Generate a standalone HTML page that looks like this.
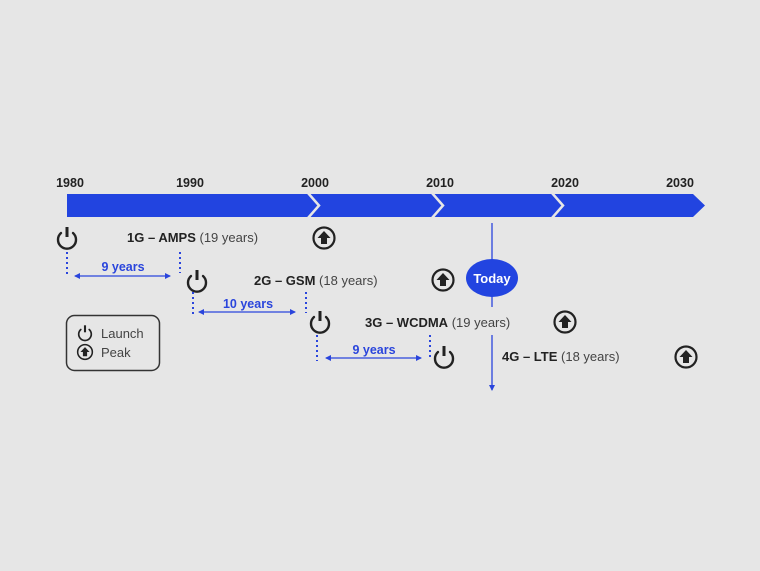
<!DOCTYPE html>
<html><head><meta charset="utf-8"><style>
html,body{margin:0;padding:0;background:#e6e6e6;}
svg{display:block;font-family:"Liberation Sans",sans-serif;}
.yr{font-size:12.5px;font-weight:bold;fill:#222;}
.lb{font-size:13px;fill:#222;}
.b{font-weight:bold;}
.g{fill:#444;}
.bl{font-size:12.5px;font-weight:bold;fill:#2a45dc;}
</style></head><body>
<svg width="760" height="571" viewBox="0 0 760 571">
<defs>
<marker id="a" markerWidth="6" markerHeight="6" refX="5" refY="3" orient="auto-start-reverse" markerUnits="userSpaceOnUse"><path d="M0,0 L6,3 L0,6z" fill="#2a45dc"/></marker>
<g id="pw"><path d="M-6,-5 A9,9 0 1 0 6,-5" fill="none" stroke="#222" stroke-width="2.4" stroke-linecap="round"/><line x1="0" y1="-11" x2="0" y2="-1" stroke="#222" stroke-width="3"/></g>
<g id="pk"><circle r="10.5" fill="none" stroke="#222" stroke-width="2.2"/><path d="M0,-7 L6.5,0 L3,0 L3,6 L-3,6 L-3,0 L-6.5,0z" fill="#222"/></g>
</defs>
<text class="yr" x="70" y="187" text-anchor="middle">1980</text>
<text class="yr" x="190" y="187" text-anchor="middle">1990</text>
<text class="yr" x="315" y="187" text-anchor="middle">2000</text>
<text class="yr" x="440" y="187" text-anchor="middle">2010</text>
<text class="yr" x="565" y="187" text-anchor="middle">2020</text>
<text class="yr" x="680" y="187" text-anchor="middle">2030</text>
<path d="M67,194 L693,194 L705,205.5 L693,217 L67,217z" fill="#2244e0"/>
<g fill="none" stroke="#e6e6e6" stroke-width="2.5">
<path d="M308,193 L319,205.5 L308,218"/><path d="M432,193 L443,205.5 L432,218"/><path d="M552,193 L563,205.5 L552,218"/>
</g>
<use href="#pw" x="67" y="238"/><use href="#pw" x="197" y="281"/><use href="#pw" x="320" y="322"/><use href="#pw" x="444" y="357"/>
<use href="#pk" x="324" y="238"/><use href="#pk" x="443" y="280"/><use href="#pk" x="565" y="322"/><use href="#pk" x="686" y="357"/>
<text class="lb" x="127" y="242"><tspan class="b">1G – AMPS</tspan> <tspan class="g">(19 years)</tspan></text>
<text class="lb" x="254" y="285"><tspan class="b">2G – GSM</tspan> <tspan class="g">(18 years)</tspan></text>
<text class="lb" x="365" y="327"><tspan class="b">3G – WCDMA</tspan> <tspan class="g">(19 years)</tspan></text>
<text class="lb" x="502" y="361"><tspan class="b">4G – LTE</tspan> <tspan class="g">(18 years)</tspan></text>
<g stroke="#2a45dc" stroke-width="2" stroke-dasharray="2,3">
<line x1="67" y1="252" x2="67" y2="274"/><line x1="180" y1="252" x2="180" y2="273"/>
<line x1="193" y1="292" x2="193" y2="314"/><line x1="306" y1="292" x2="306" y2="313"/>
<line x1="317" y1="335" x2="317" y2="361"/><line x1="430" y1="335" x2="430" y2="360"/>
</g>
<g stroke="#2a45dc" stroke-width="1.3">
<line x1="75" y1="276" x2="170" y2="276" marker-start="url(#a)" marker-end="url(#a)"/>
<line x1="199" y1="312" x2="295" y2="312" marker-start="url(#a)" marker-end="url(#a)"/>
<line x1="326" y1="358" x2="421" y2="358" marker-start="url(#a)" marker-end="url(#a)"/>
<line x1="492" y1="223" x2="492" y2="260"/><line x1="492" y1="296" x2="492" y2="307"/>
<line x1="492" y1="335" x2="492" y2="390" marker-end="url(#a)"/>
</g>
<text class="bl" x="123" y="271" text-anchor="middle">9 years</text>
<text class="bl" x="248" y="308" text-anchor="middle">10 years</text>
<text class="bl" x="374" y="354" text-anchor="middle">9 years</text>
<ellipse cx="492" cy="278" rx="26" ry="19" fill="#2244e0"/>
<text x="492" y="283" text-anchor="middle" style="font-size:13px;font-weight:bold;fill:#fff">Today</text>
<rect x="66.5" y="315.5" width="93" height="55" rx="8" fill="none" stroke="#333" stroke-width="1.5"/>
<g transform="translate(85,333) scale(0.7)"><use href="#pw"/></g>
<g transform="translate(85,352) scale(0.7)"><use href="#pk"/></g>
<text class="lb g" x="101" y="338">Launch</text>
<text class="lb g" x="101" y="357">Peak</text>
</svg>
</body></html>
